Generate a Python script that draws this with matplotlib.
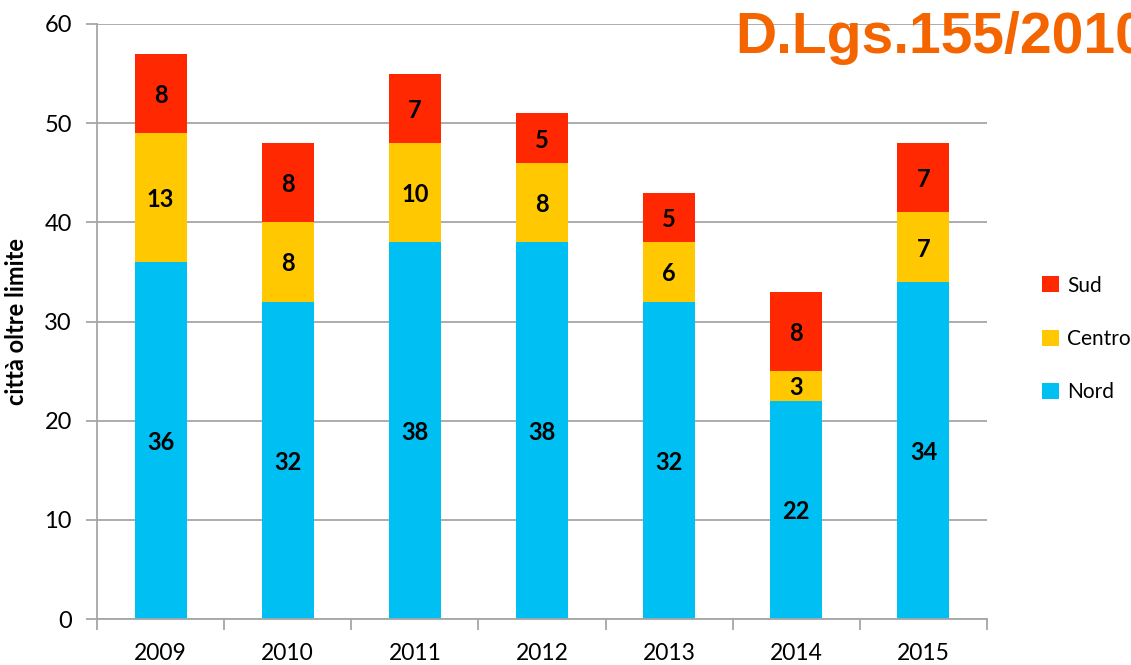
import numpy as np
import matplotlib

matplotlib.use("Agg")
import matplotlib.pyplot as plt

years = ["2009", "2010", "2011", "2012", "2013", "2014", "2015"]
nord = [36, 32, 38, 38, 32, 22, 34]
centro = [13, 8, 10, 8, 6, 3, 7]
sud = [8, 8, 7, 5, 5, 8, 7]

COLORS = {"Nord": "#00BFF2", "Centro": "#FFC800", "Sud": "#FF2800"}
GRID = "#A6A6A6"

plt.rcParams["font.family"] = ["Lato", "DejaVu Sans"]

W, H = 1131, 665
fig = plt.figure(figsize=(W / 100, H / 100), dpi=100)
ax = fig.add_axes([97 / W, (H - 619) / H, (987 - 97) / W, (619 - 24) / H])

x = np.arange(len(years))
bw = 0.41
bottoms = np.zeros(len(years))
handles = {}
for name, vals in [("Nord", nord), ("Centro", centro), ("Sud", sud)]:
    bars = ax.bar(x, vals, bw, bottom=bottoms, color=COLORS[name], zorder=2)
    handles[name] = bars
    for xi, b, v in zip(x, bottoms, vals):
        ax.text(xi, b + v / 2 - 0.2, str(v), ha="center", va="center",
                fontsize=17, fontweight="bold", color="black", zorder=3)
    bottoms = bottoms + np.array(vals)

ax.set_xlim(-0.5, len(years) - 0.5)
ax.set_ylim(0, 60)
ax.set_yticks(range(0, 61, 10))
ax.yaxis.grid(True, color=GRID, lw=1.3, zorder=0)
ax.set_axisbelow(True)

for s in ["top", "right"]:
    ax.spines[s].set_visible(False)
ax.spines["left"].set_color(GRID)
ax.spines["left"].set_linewidth(1.3)
ax.spines["bottom"].set_color(GRID)
ax.spines["bottom"].set_linewidth(1.3)

ax.set_xticks(x)
ax.set_xticklabels(years)
ax.set_xticks(np.arange(-0.5, len(years)), minor=True)
ax.tick_params(axis="x", which="major", length=0, labelsize=16.5, pad=17)
ax.tick_params(axis="x", which="minor", length=8, color=GRID, width=1.3)
ax.tick_params(axis="y", length=8, color=GRID, width=1.3, labelsize=17, pad=10)

ax.set_ylabel("città oltre limite", fontsize=17, fontweight="bold", labelpad=12)

ax.legend([handles["Sud"], handles["Centro"], handles["Nord"]],
          ["Sud", "Centro", "Nord"], loc="center left",
          bbox_to_anchor=(1034 / W, (H - 339) / H), bbox_transform=fig.transFigure,
          frameon=False, fontsize=15, handlelength=0.8, handleheight=0.8,
          handletextpad=0.4, labelspacing=1.6, borderaxespad=0)

fig.text(735 / W, (H - 53) / H, "D.Lgs.155/2010", fontsize=41, fontweight="bold",
         color="#F46500", family=["Liberation Sans", "DejaVu Sans"],
         ha="left", va="baseline")

fig.savefig("out.png", dpi=100)
